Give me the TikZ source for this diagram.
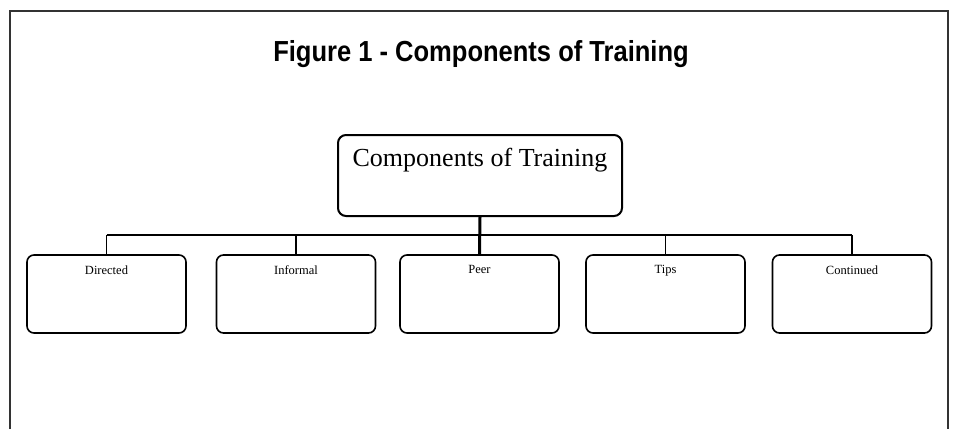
\documentclass[tikz,border=0pt]{standalone}
\usepackage{fontspec}
\setmainfont{Liberation Serif}
\newfontfamily\titlefont[FakeStretch=0.88]{Liberation Sans}
\tikzset{
  frame/.style={line width=1.2pt, draw=black!80},
  rootbox/.style={draw, line width=2pt, rounded corners=8pt, minimum width=284pt, minimum height=81pt, inner sep=0pt},
  childbox/.style={draw, line width=1.6pt, rounded corners=7pt, minimum width=159pt, minimum height=78pt, inner sep=0pt},
  lbl/.style={font=\fontsize{12.5}{13}\selectfont, inner sep=0pt, anchor=north},
  rootlbl/.style={font=\fontsize{26}{28}\selectfont, inner sep=0pt, anchor=north},
  bus/.style={line width=1.6pt},
  trunk/.style={line width=3pt}
}
\begin{document}
\begin{tikzpicture}[x=1pt,y=-1pt]
\useasboundingbox (0,0) rectangle (959,429);
\draw[frame] (10,429) -- (10,11) -- (948,11) -- (948,429);
\node[font=\titlefont\bfseries\fontsize{29}{31}\selectfont, inner sep=0pt] (title) at (481,54) {Figure 1 - Components of Training};

\node[rootbox] (root) at (480,175.5) {};
\node[rootlbl] (rootl) at ([yshift=-14pt]root.north) {Components of Training};

\node[childbox] (c1) at (106.5,294) {};
\node[childbox] (c2) at (296,294) {};
\node[childbox] (c3) at (479.5,294) {};
\node[childbox] (c4) at (665.5,294) {};
\node[childbox] (c5) at (852,294) {};

\node[lbl] (l1) at ([yshift=-11pt]c1.north) {Directed};
\node[lbl] (l2) at ([yshift=-11pt]c2.north) {Informal};
\node[lbl] (l3) at ([yshift=-11pt]c3.north) {Peer};
\node[lbl] (l4) at ([yshift=-11pt]c4.north) {Tips};
\node[lbl] (l5) at ([yshift=-11pt]c5.north) {Continued};

\coordinate (b1) at (c1.north |- 0,235);
\coordinate (b2) at (c2.north |- 0,235);
\coordinate (b3) at (c3.north |- 0,235);
\coordinate (b4) at (c4.north |- 0,235);
\coordinate (b5) at (c5.north |- 0,235);

\draw[bus] (b1) -- (b5);
\draw[trunk] (root.south) -- (c3.north);
\draw[bus] (b1) -- (c1.north);
\draw[bus] (b2) -- (c2.north);
\draw[bus] (b4) -- (c4.north);
\draw[bus] (b5) -- (c5.north);
\end{tikzpicture}
\end{document}
